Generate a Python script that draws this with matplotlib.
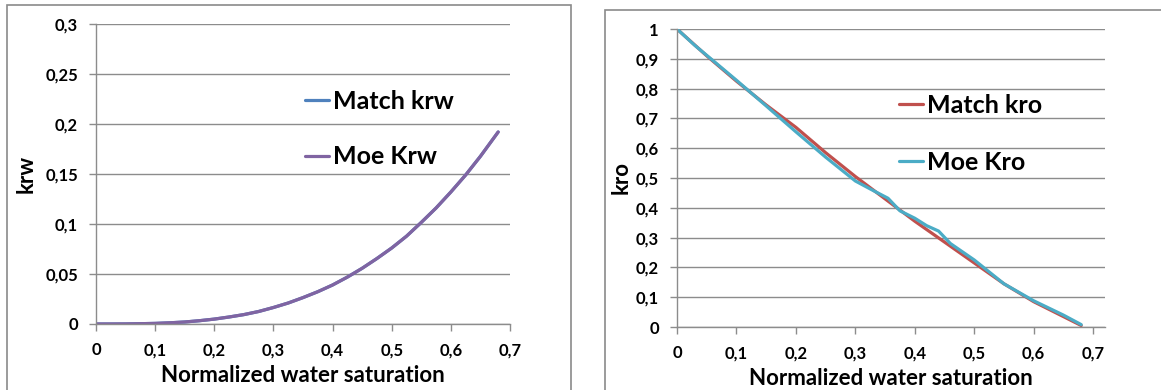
import numpy as np
import matplotlib
matplotlib.use("Agg")
import matplotlib.pyplot as plt
from matplotlib.patches import Rectangle
from matplotlib.ticker import FuncFormatter, MultipleLocator

plt.rcParams['font.family'] = ['Lato', 'DejaVu Sans']
plt.rcParams['font.weight'] = 'bold'

# water relative permeability vs normalized water saturation
sw_w = [0, 0.025, 0.05, 0.075, 0.1, 0.125, 0.15, 0.175, 0.2, 0.225, 0.25, 0.275, 0.3,
        0.325, 0.35, 0.375, 0.4, 0.425, 0.45, 0.475, 0.5, 0.525, 0.55, 0.575, 0.6,
        0.625, 0.65, 0.68]
match_krw = [0, 0.00001, 0.00008, 0.0003, 0.0006, 0.0012, 0.002, 0.0033, 0.0049, 0.007,
             0.0094, 0.0125, 0.0165, 0.021, 0.0264, 0.0323, 0.039, 0.0469, 0.0557,
             0.0655, 0.076, 0.0878, 0.1016, 0.116, 0.132, 0.149, 0.1677, 0.192]
moe_krw = [0, 0.00001, 0.00008, 0.0003, 0.0006, 0.0012, 0.002, 0.0033, 0.0049, 0.007,
           0.0094, 0.0125, 0.0165, 0.021, 0.0264, 0.0323, 0.039, 0.0469, 0.0557,
           0.0655, 0.076, 0.0878, 0.1016, 0.116, 0.132, 0.149, 0.1677, 0.192]

# oil relative permeability
sw_match_o = [0, 0.05, 0.1, 0.15, 0.2, 0.25, 0.3, 0.35, 0.4, 0.45, 0.5, 0.55, 0.6, 0.65, 0.68]
match_kro = [1.0, 0.91, 0.825, 0.745, 0.67, 0.585, 0.505, 0.43, 0.355, 0.285, 0.215,
             0.145, 0.085, 0.035, 0.005]
sw_moe_o = [0, 0.03, 0.06, 0.1, 0.15, 0.2, 0.25, 0.3, 0.33, 0.355, 0.375, 0.4, 0.42,
            0.44, 0.46, 0.5, 0.55, 0.6, 0.65, 0.68]
moe_kro = [1.0, 0.945, 0.895, 0.828, 0.742, 0.655, 0.57, 0.49, 0.458, 0.432, 0.39,
           0.365, 0.34, 0.322, 0.28, 0.225, 0.145, 0.088, 0.04, 0.008]

W, H = 1161, 390
GRID = '#8c8c8c'

def excel_fmt(v, pos):
    return ('%g' % round(v, 4)).replace('.', ',')

def style(ax, ymax, ystep, xmax):
    ax.set_xlim(0, xmax)
    ax.set_ylim(0, ymax)
    ax.xaxis.set_major_locator(MultipleLocator(0.1))
    ax.yaxis.set_major_locator(MultipleLocator(ystep))
    ax.xaxis.set_major_formatter(FuncFormatter(excel_fmt))
    ax.yaxis.set_major_formatter(FuncFormatter(excel_fmt))
    for s in ['top', 'right']:
        ax.spines[s].set_visible(False)
    for s in ['left', 'bottom']:
        ax.spines[s].set_color(GRID)
        ax.spines[s].set_linewidth(1)
    ax.yaxis.grid(True, color=GRID, lw=1)
    ax.set_axisbelow(True)
    ax.tick_params(direction='out', length=5, width=1, color=GRID, labelsize=12)
    ax.tick_params(axis='x', pad=8)
    ax.tick_params(axis='y', pad=8)
    for lab in ax.get_xticklabels() + ax.get_yticklabels():
        lab.set_fontweight('bold')
    ax.set_xlabel('Normalized water saturation', fontsize=16, fontweight='bold', labelpad=5)

def px_axes(fig, x0, x1, ytop, ybot):
    return fig.add_axes([x0 / W, (H - ybot) / H, (x1 - x0) / W, (ybot - ytop) / H])

def legend_at(ax, x, y, spacing):
    ax.legend(loc='upper left', bbox_to_anchor=(x / W, (H - y) / H),
              bbox_transform=fig.transFigure, frameon=False, borderaxespad=0,
              handlelength=0.95, handletextpad=0.18, labelspacing=spacing, borderpad=0,
              prop={'weight': 'bold', 'size': 18})

fig = plt.figure(figsize=(W / 100, H / 100), dpi=100)

# chart frames
fig.add_artist(Rectangle((7 / W, -0.05), (571 - 7) / W, (H - 5) / H + 0.05,
                         transform=fig.transFigure, fill=False, ec='#8a8a8a', lw=1.2))
fig.add_artist(Rectangle((605 / W, -0.05), 1.0, (H - 10) / H + 0.05,
                         transform=fig.transFigure, fill=False, ec='#8a8a8a', lw=1.2))

line_kw = dict(lw=2.3, solid_joinstyle='round', solid_capstyle='round')

# krw
ax1 = px_axes(fig, 96, 510, 24, 324)
ax1.plot(sw_w, match_krw, color='#4F81BD', label='Match krw', **line_kw)
ax1.plot(sw_w, moe_krw, color='#8064A2', label='Moe Krw', **line_kw)
style(ax1, 0.3, 0.05, 0.7)
ax1.set_ylabel('krw', fontsize=16, fontweight='bold', labelpad=6)
legend_at(ax1, 305, 90, 1.3)

# kro
ax2 = px_axes(fig, 677, 1105, 29, 327)
ax2.plot(sw_match_o, match_kro, color='#C0504D', label='Match kro', **line_kw)
ax2.plot(sw_moe_o, moe_kro, color='#4BACC6', label='Moe Kro', **line_kw)
style(ax2, 1.0, 0.1, 0.72)
ax2.set_xticks(np.arange(0, 0.71, 0.1))
ax2.set_ylabel('kro', fontsize=16, fontweight='bold', labelpad=3)
legend_at(ax2, 899, 94, 1.36)

fig.savefig('out.png', dpi=100)
